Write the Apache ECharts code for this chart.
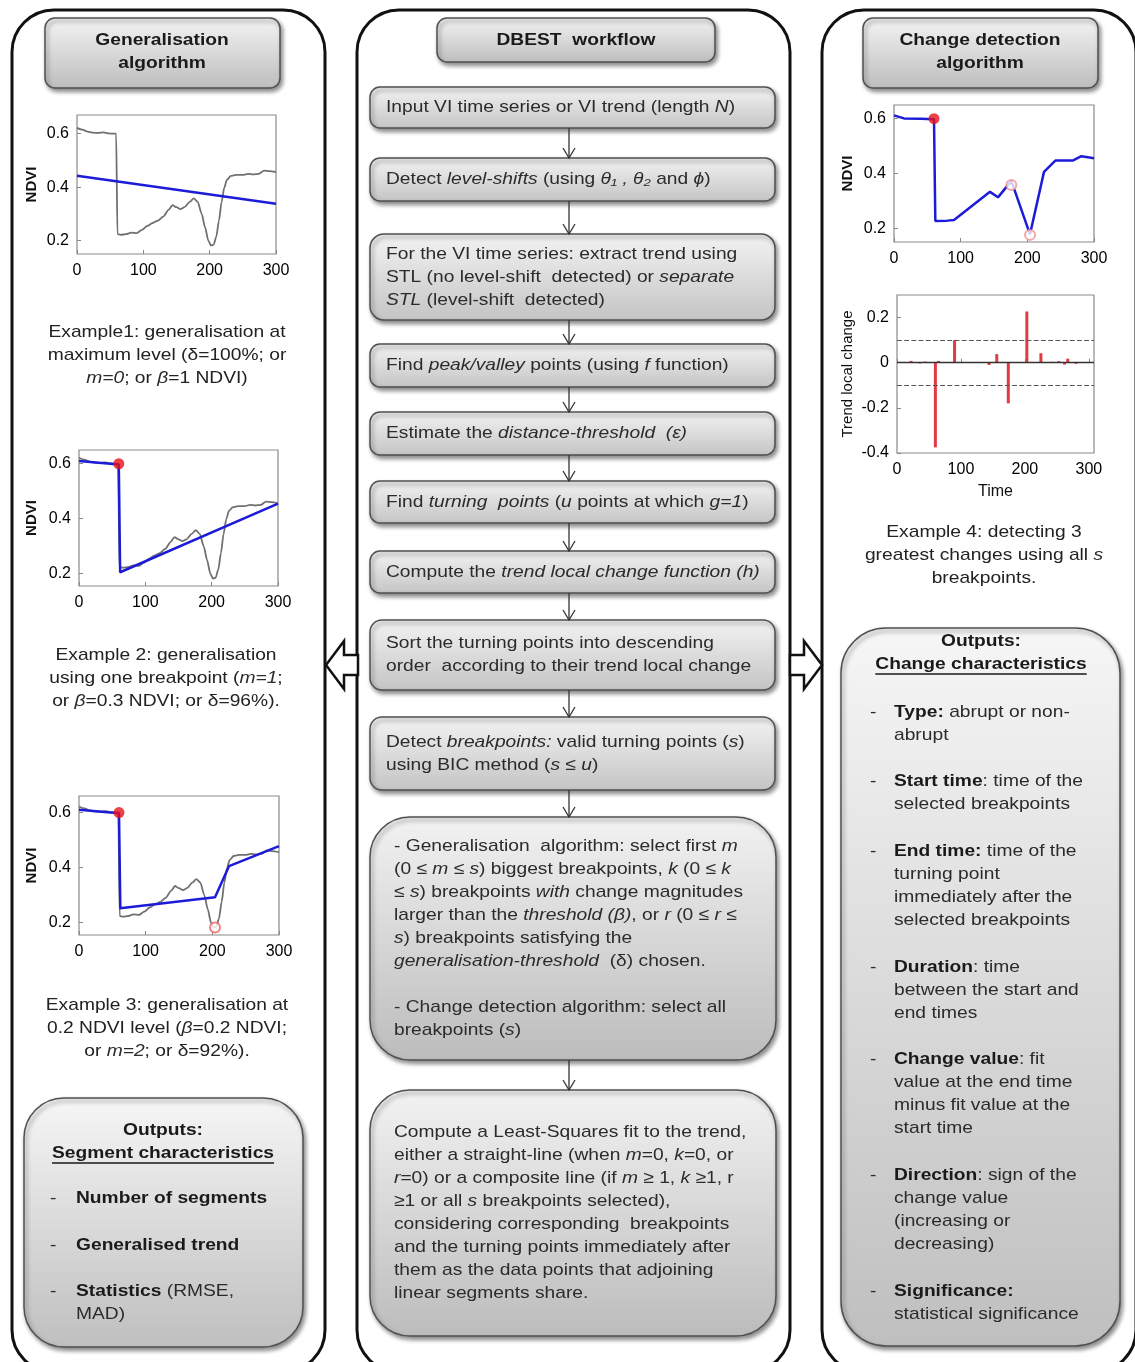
<!DOCTYPE html>
<html>
<head>
<meta charset="utf-8">
<script src="https://cdn.jsdelivr.net/npm/echarts@6/dist/echarts.min.js"></script>
<style>
  html, body { margin: 0; background: #fff; }
  #main { width: 1135px; height: 1362px; }
</style>
</head>
<body>
<div id="main"></div>
<script>
// NDVI trend used in examples 1-3 (time, value)
const trendT = [0,8,16,24,32,40,48,56,59,61,66,74,82,90,98,106,114,122,130,138,144,150,156,162,170,176,182,188,193,198,202,206,210,214,218,222,226,232,240,250,258,266,274,282,290,300];
const trendNdvi = [0.622,0.615,0.608,0.604,0.603,0.605,0.601,0.600,0.600,0.224,0.222,0.224,0.230,0.228,0.240,0.255,0.266,0.275,0.290,0.315,0.333,0.325,0.318,0.325,0.345,0.358,0.345,0.300,0.250,0.200,0.182,0.185,0.215,0.275,0.345,0.398,0.428,0.442,0.446,0.446,0.450,0.448,0.450,0.462,0.460,0.456];

// fitted lines
const fit1T = [0, 300];
const fit1V = [0.443, 0.338];
const fit2T = [0, 60, 62, 300];
const fit2V = [0.610, 0.597, 0.205, 0.455];
const fit3T = [0, 60, 62, 204, 225, 300];
const fit3V = [0.610, 0.597, 0.252, 0.292, 0.405, 0.478];
// example 4: piecewise trend through all breakpoints
const fit4T = [0, 15, 40, 60, 62, 80, 90, 144, 156, 176, 204, 225, 242, 268, 281, 300];
const fit4V = [0.612, 0.601, 0.600, 0.598, 0.227, 0.228, 0.230, 0.333, 0.313, 0.373, 0.178, 0.406, 0.447, 0.447, 0.463, 0.456];

// breakpoints
const bigBreakT = [60];
const bigBreakV = [0.600];
const ex3MarkT = [204];
const ex3MarkV = [0.182];
const ex4MarkT = [176, 204];
const ex4MarkV = [0.358, 0.176];

// trend local change (h)
const stemT = [16, 22, 36, 44, 60, 65, 90, 144, 156, 174, 203, 225, 242, 253, 262, 267, 280];
const stemV = [0.003, 0.008, -0.003, 0.005, -0.375, 0.008, 0.100, -0.010, 0.038, -0.180, 0.227, 0.042, 0.004, 0.007, -0.008, 0.018, -0.005];
const hThreshold = [0.1, -0.1];

const ndviTicks = [0.2, 0.4, 0.6];
const timeTicks = [0, 100, 200, 300];
const changeTicks = [-0.4, -0.2, 0, 0.2];

const FONT = 'Liberation Sans, Arial, sans-serif';
const TXT = '#2b2b2b';
const SX = 1.13; // the figure's text is a little wider than plain Arial

function zip(a, b) { return a.map((v, i) => [v, b[i]]); }

let chart = echarts.init(document.getElementById('main'));

// ---- axes ----
function xAx(i, max, name) {
  return {
    type: 'value', gridIndex: i, min: 0, max: max,
    name: name || '', nameLocation: 'middle', nameGap: 31,
    nameTextStyle: { fontSize: 16, color: '#111', fontFamily: FONT },
    axisLine: { show: false }, splitLine: { show: false },
    axisTick: { inside: true, length: 4, lineStyle: { color: '#888' }, customValues: timeTicks },
    axisLabel: { customValues: timeTicks, fontSize: 16, color: '#000', fontFamily: FONT, margin: 9 }
  };
}
function yAx(i, min, max, ticks, name, gap, bold) {
  return {
    type: 'value', gridIndex: i, min: min, max: max,
    name: name, nameLocation: 'middle', nameGap: gap, nameRotate: 90,
    nameTextStyle: { fontSize: bold ? 15 : 15, color: '#111', fontFamily: FONT, fontWeight: bold ? 'bold' : 'normal' },
    axisLine: { show: false }, splitLine: { show: false },
    axisTick: { inside: true, length: 4, lineStyle: { color: '#888' }, customValues: ticks },
    axisLabel: { customValues: ticks, fontSize: 16, color: '#000', fontFamily: FONT, margin: 8 }
  };
}
let gridBase = { show: true, borderColor: '#8a8a8a', borderWidth: 1.2, backgroundColor: '#fff' };
let grids = [
  { left: 77, top: 115, width: 199, height: 139 },
  { left: 79, top: 450, width: 199, height: 136 },
  { left: 79, top: 796, width: 200, height: 139 },
  { left: 894, top: 105, width: 200, height: 137 },
  { left: 897, top: 295, width: 197, height: 158 }
].map(g => Object.assign({}, gridBase, g));

function lineS(i, t, v, color, w, z) {
  return {
    type: 'line', xAxisIndex: i, yAxisIndex: i, data: zip(t, v), showSymbol: false,
    lineStyle: { color: color, width: w }, z: z, silent: true, animation: false
  };
}
function grayS(i) {
  let s = lineS(i, trendT, trendNdvi, '#707070', 1.8, 2);
  s.smooth = 0.25; s.smoothMonotone = 'x';
  return s;
}
function dotS(i, t, v, hollow, color) {
  return {
    type: 'scatter', xAxisIndex: i, yAxisIndex: i, data: zip(t, v), z: 5, silent: true,
    symbol: hollow ? 'emptyCircle' : 'circle', symbolSize: hollow ? 10 : 11,
    itemStyle: hollow ? { color: color, borderWidth: 1.5 } : { color: color }
  };
}
const BLUE = '#1c1cd8';

// ---- diagram pieces ----
const RICH = {
  i: { fontStyle: 'italic', fontFamily: FONT, fontSize: 17, fill: TXT, lineHeight: 23 },
  b: { fontWeight: 'bold', fontFamily: FONT, fontSize: 17, fill: '#1a1a1a', lineHeight: 23 }
};
function txt(x, y, text, o) {
  return {
    type: 'text', x: x, y: y, z: 30, silent: true, scaleX: SX,
    style: Object.assign({ text: text, fontFamily: FONT, fontSize: 17, fill: TXT, lineHeight: 23,
      align: 'left', verticalAlign: 'middle', rich: RICH }, o || {})
  };
}
function grad(c0, c1) {
  return new echarts.graphic.LinearGradient(0, 0, 0, 1, [{ offset: 0, color: c0 }, { offset: 1, color: c1 }]);
}
function box(x, y, w, h, r, c0, c1) {
  return {
    type: 'rect', z: 10, silent: true,
    shape: { x: x, y: y, width: w, height: h, r: r },
    style: { fill: grad(c0 || '#f3f3f3', c1 || '#c4c4c4'), stroke: '#505050', lineWidth: 1.5,
      shadowBlur: 4, shadowOffsetX: 2, shadowOffsetY: 3, shadowColor: 'rgba(0,0,0,0.45)' }
  };
}
function panel(x, y, w, h) {
  return { type: 'rect', z: 1, silent: true, shape: { x: x, y: y, width: w, height: h, r: 42 },
    style: { fill: 'none', stroke: '#111', lineWidth: 3 } };
}
function arrowDown(y1, y2) {
  return [
    { type: 'line', z: 12, silent: true, shape: { x1: 569, y1: y1, x2: 569, y2: y2 }, style: { stroke: '#333', lineWidth: 1.3 } },
    { type: 'polyline', z: 12, silent: true, shape: { points: [[563, y2 - 10], [569, y2], [575, y2 - 10]] }, style: { stroke: '#333', lineWidth: 1.3, fill: 'none' } }
  ];
}
let measure = document.createElement('canvas').getContext('2d');
function underline(cx, y, text) {
  measure.font = 'bold 17px ' + FONT;
  let w = measure.measureText(text).width * SX;
  return { type: 'line', z: 30, silent: true, shape: { x1: cx - w / 2, y1: y + 10, x2: cx + w / 2, y2: y + 10 }, style: { stroke: '#1a1a1a', lineWidth: 1.3 } };
}

let el = [];
// outer panels
el.push(panel(12, 10, 313, 1362));
el.push(panel(357, 10, 433, 1362));
el.push(panel(822, 10, 314, 1362));
// side arrows
el.push({ type: 'polygon', z: 12, silent: true, shape: { points: [[326, 665], [344, 641], [344, 655], [358, 655], [358, 675], [344, 675], [344, 689]] }, style: { fill: '#fff', stroke: '#111', lineWidth: 2.5 } });
el.push({ type: 'polygon', z: 12, silent: true, shape: { points: [[822, 665], [804, 641], [804, 655], [790, 655], [790, 675], [804, 675], [804, 689]] }, style: { fill: '#fff', stroke: '#111', lineWidth: 2.5 } });

// headers
el.push(box(45, 18, 235, 70, 10, '#f4f4f4', '#bdbdbd'));
el.push(txt(162, 52, 'Generalisation\nalgorithm', { align: 'center', fontWeight: 'bold', fill: '#1a1a1a' }));
el.push(box(437, 18, 278, 44, 10, '#f4f4f4', '#bdbdbd'));
el.push(txt(576, 40, 'DBEST  workflow', { align: 'center', fontWeight: 'bold', fill: '#1a1a1a' }));
el.push(box(863, 18, 235, 70, 10, '#f4f4f4', '#bdbdbd'));
el.push(txt(980, 52, 'Change detection\nalgorithm', { align: 'center', fontWeight: 'bold', fill: '#1a1a1a' }));

// workflow steps
let steps = [
  [87, 41, 10, 'Input VI time series or VI trend (length {i|N})'],
  [158, 43, 10, 'Detect {i|level-shifts} (using {i|θ₁ , θ₂} and {i|ϕ})'],
  [234, 86, 14, 'For the VI time series: extract trend using\nSTL (no level-shift  detected) or {i|separate}\n{i|STL} (level-shift  detected)'],
  [344, 43, 10, 'Find {i|peak/valley} points (using {i|f} function)'],
  [412, 43, 10, 'Estimate the {i|distance-threshold  (ε)}'],
  [481, 42, 10, 'Find {i|turning  points} ({i|u} points at which {i|g=1})'],
  [551, 42, 10, 'Compute the {i|trend local change function (h)}'],
  [620, 70, 12, 'Sort the turning points into descending\norder  according to their trend local change'],
  [717, 73, 12, 'Detect {i|breakpoints:} valid turning points ({i|s})\nusing BIC method ({i|s} ≤ {i|u})'],
  [817, 243, 40, '- Generalisation  algorithm: select first {i|m}\n(0 ≤ {i|m} ≤ {i|s}) biggest breakpoints, {i|k} (0 ≤ {i|k}\n≤ {i|s}) breakpoints {i|with} change magnitudes\nlarger than the {i|threshold (β)}, or {i|r} (0 ≤ {i|r} ≤\n{i|s}) breakpoints satisfying the\n{i|generalisation-threshold}  (δ) chosen.\n\n- Change detection algorithm: select all\nbreakpoints ({i|s})'],
  [1090, 246, 40, 'Compute a Least-Squares fit to the trend,\neither a straight-line (when {i|m}=0, {i|k}=0, or\n{i|r}=0) or a composite line (if {i|m} ≥ 1, {i|k} ≥1, r\n≥1 or all {i|s} breakpoints selected),\nconsidering corresponding  breakpoints\nand the turning points immediately after\nthem as the data points that adjoining\nlinear segments share.']
];
steps.forEach((s, k) => {
  let big = k >= 9;
  el.push(box(370, s[0], big ? 406 : 405, s[1], s[2], big ? '#f2f2f2' : '#f3f3f3', big ? '#bcbcbc' : '#c4c4c4'));
  el.push(txt(big ? 394 : 386, s[0] + s[1] / 2, s[3]));
  if (k < steps.length - 1) {
    arrowDown(s[0] + s[1], steps[k + 1][0]).forEach(a => el.push(a));
  }
});

// example captions
el.push(txt(167, 355, 'Example1: generalisation at\nmaximum level (δ=100%; or\n{i|m=0}; or {i|β}=1 NDVI)', { align: 'center', fill: '#222' }));
el.push(txt(166, 678, 'Example 2: generalisation\nusing one breakpoint ({i|m=1};\nor {i|β}=0.3 NDVI; or δ=96%).', { align: 'center', fill: '#222' }));
el.push(txt(167, 1028, 'Example 3: generalisation at\n0.2 NDVI level ({i|β}=0.2 NDVI;\nor {i|m=2}; or δ=92%).', { align: 'center', fill: '#222' }));
el.push(txt(984, 555, 'Example 4: detecting 3\ngreatest changes using all {i|s}\nbreakpoints.', { align: 'center', fill: '#222' }));

// left outputs
el.push(box(24, 1098, 279, 249, 40, '#f6f6f6', '#bfbfbf'));
el.push(txt(163, 1130, 'Outputs:', { align: 'center', fontWeight: 'bold', fill: '#1a1a1a' }));
el.push(txt(163, 1153, 'Segment characteristics', { align: 'center', fontWeight: 'bold', fill: '#1a1a1a' }));
el.push(underline(163, 1153, 'Segment characteristics'));
let leftItems = [
  [1198, '{b|Number of segments}'],
  [1245, '{b|Generalised trend}'],
  [1291, '{b|Statistics} (RMSE,\nMAD)']
];
leftItems.forEach(it => {
  el.push(txt(50, it[0], '-'));
  el.push(txt(76, it[0] - 11.5, it[1], { verticalAlign: 'top' }));
});

// right outputs
el.push(box(841, 628, 279, 718, 45, '#f6f6f6', '#bfbfbf'));
el.push(txt(981, 641, 'Outputs:', { align: 'center', fontWeight: 'bold', fill: '#1a1a1a' }));
el.push(txt(981, 664, 'Change characteristics', { align: 'center', fontWeight: 'bold', fill: '#1a1a1a' }));
el.push(underline(981, 664, 'Change characteristics'));
let rightItems = [
  [712, '{b|Type:} abrupt or non-\nabrupt'],
  [781, '{b|Start time}: time of the\nselected breakpoints'],
  [851, '{b|End time:} time of the\nturning point\nimmediately after the\nselected breakpoints'],
  [967, '{b|Duration}: time\nbetween the start and\nend times'],
  [1059, '{b|Change value}: fit\nvalue at the end time\nminus fit value at the\nstart time'],
  [1175, '{b|Direction}: sign of the\nchange value\n(increasing or\ndecreasing)'],
  [1291, '{b|Significance:}\nstatistical significance']
];
rightItems.forEach(it => {
  el.push(txt(870, it[0], '-'));
  el.push(txt(894, it[0] - 11.5, it[1], { verticalAlign: 'top' }));
});

let option = {
  backgroundColor: '#fff',
  animation: false,
  grid: grids,
  xAxis: [xAx(0, 300), xAx(1, 300), xAx(2, 300), xAx(3, 300), xAx(4, 308, 'Time')],
  yAxis: [
    yAx(0, 0.15, 0.67, ndviTicks, 'NDVI', 38, true),
    yAx(1, 0.155, 0.65, ndviTicks, 'NDVI', 40, true),
    yAx(2, 0.155, 0.66, ndviTicks, 'NDVI', 40, true),
    yAx(3, 0.15, 0.65, ndviTicks, 'NDVI', 39, true),
    yAx(4, -0.4, 0.3, changeTicks, 'Trend local change', 42, false)
  ],
  graphic: { elements: el },
  series: [
    grayS(0), lineS(0, fit1T, fit1V, BLUE, 2.5, 3),
    grayS(1), lineS(1, fit2T, fit2V, BLUE, 2.5, 3), dotS(1, bigBreakT, bigBreakV, false, '#e8101a'),
    grayS(2), lineS(2, fit3T, fit3V, BLUE, 2.5, 3), dotS(2, bigBreakT, bigBreakV, false, '#e8101a'),
    dotS(2, ex3MarkT, ex3MarkV, true, '#f06060'),
    lineS(3, fit4T, fit4V, BLUE, 2.5, 3), dotS(3, bigBreakT, bigBreakV, false, '#e8101a'),
    dotS(3, ex4MarkT, ex4MarkV, true, '#f29090'),
    {
      type: 'bar', xAxisIndex: 4, yAxisIndex: 4, data: zip(stemT, stemV), barWidth: 3,
      itemStyle: { color: '#e23a44' }, silent: true, z: 3,
      markLine: {
        silent: true, symbol: 'none', label: { show: false },
        data: [
          { yAxis: 0, lineStyle: { color: '#333', type: 'solid', width: 1.3 } },
          { yAxis: hThreshold[0], lineStyle: { color: '#555', type: 'dashed', width: 1.2 } },
          { yAxis: hThreshold[1], lineStyle: { color: '#555', type: 'dashed', width: 1.2 } }
        ]
      }
    }
  ]
};
chart.setOption(option);
</script>
</body>
</html>
